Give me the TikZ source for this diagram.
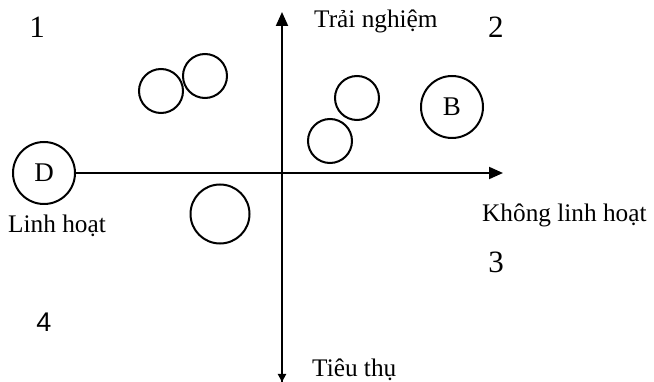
\documentclass[tikz,border=0pt]{standalone}
\usepackage{fontspec}
\setmainfont{Liberation Serif}
\newfontfamily\numsans{Liberation Sans}
\usetikzlibrary{arrows.meta}
\begin{document}
\begin{tikzpicture}[x=1pt,y=-1pt,
  circ/.style={circle,draw,line width=2pt,minimum size=44pt,inner sep=0pt},
  bigcirc/.style={circ,minimum size=62pt,font=\fontsize{27}{29}\selectfont},
  lab/.style={inner sep=0pt,font=\fontsize{25.3}{28}\selectfont},
  num/.style={inner sep=0pt,font=\fontsize{31}{33}\selectfont},
  axis/.style={line width=2pt}]
\useasboundingbox (0,0) rectangle (654,382);
% circles
\node[bigcirc] (D) at (44,173) {D};
\node[bigcirc] (B) at (452,107) {B};
\node[circ] (c1) at (161,91) {};
\node[circ] (c2) at (205,76) {};
\node[circ] (c3) at (357,98) {};
\node[circ] (c4) at (330,141) {};
\node[circ,minimum size=59pt] (c5) at (220,214) {};
% axes
\coordinate (xend) at (503,173);
\coordinate (ytop) at (282,12);
\coordinate (ymid) at (282,330);
\coordinate (ybot) at (282,382);
\draw[axis,-{Triangle[length=14pt,width=12pt]}] (D.east) -- (xend);
\draw[axis,-{Triangle[length=14pt,width=12pt]}] (ybot) -- (ytop);
\draw[axis,-{Triangle[length=8pt,width=8pt]}] (ymid) -- (ybot);
% labels
\node[lab,anchor=base west] (tn) at (314,28) {Trải nghiệm};
\node[lab,anchor=base west] (lh) at (8,233) {Linh hoạt};
\node[lab,anchor=base west] (klh) at (482,222) {Không linh hoạt};
\node[lab,anchor=base west] (tt) at (312,377) {Tiêu thụ};
\node[num,anchor=base] (n1) at (37,38) {1};
\node[num,anchor=base west] (n2) at (488,38) {2};
\node[num,anchor=base] (n3) at (496,273) {3};
\node[num,anchor=base,font=\numsans\fontsize{27}{29}\selectfont] (n4) at (44,332) {4};
\end{tikzpicture}
\end{document}
